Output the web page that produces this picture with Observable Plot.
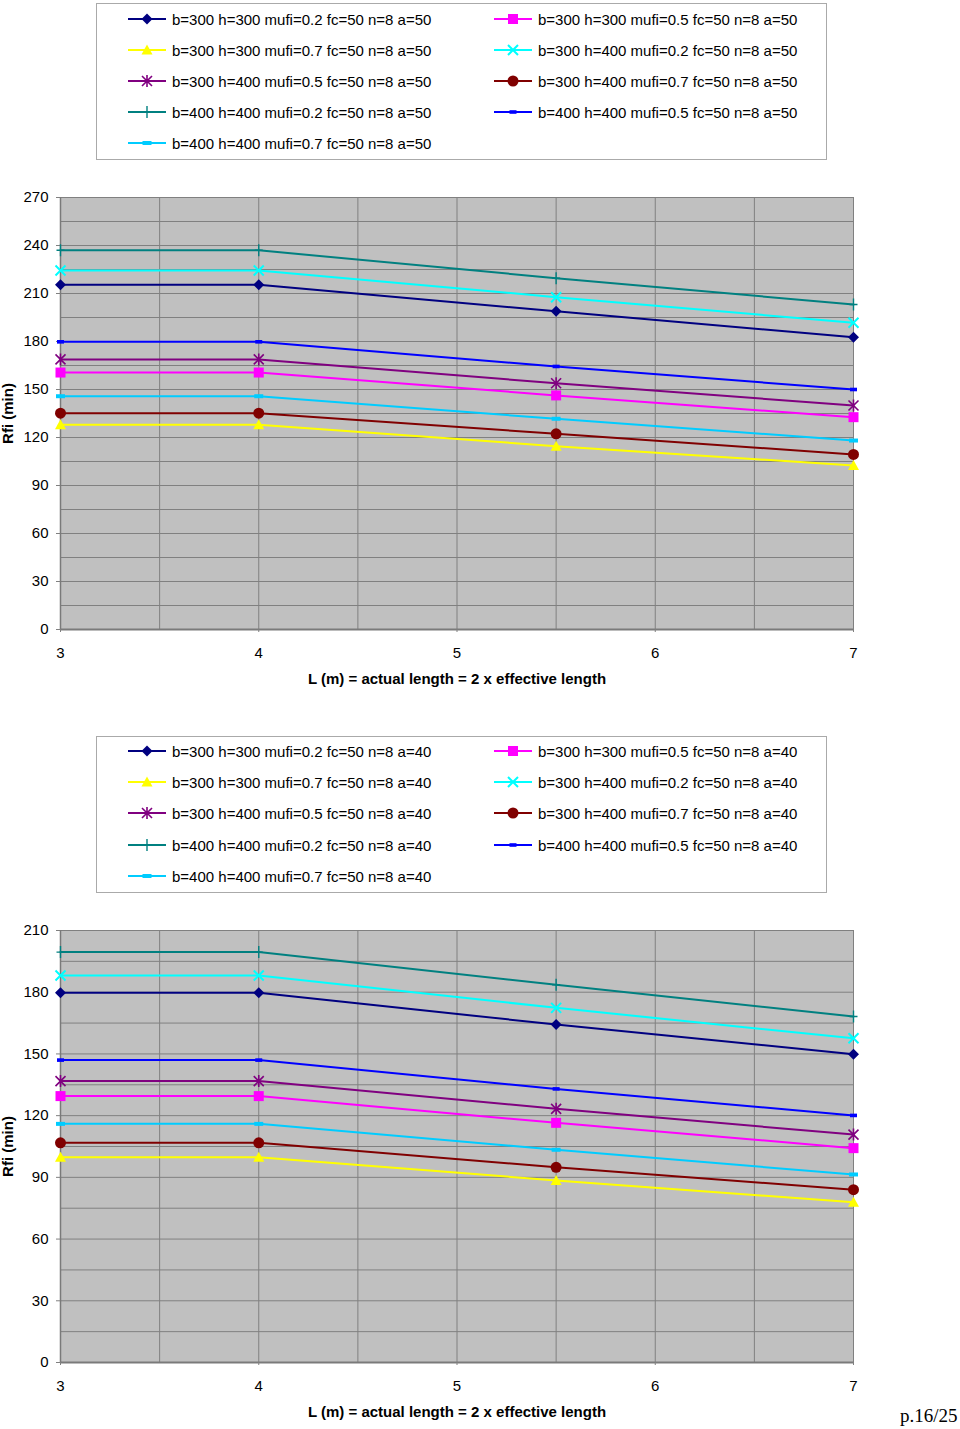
<!DOCTYPE html>
<html><head><meta charset="utf-8">
<script src="https://cdn.jsdelivr.net/npm/d3@7"></script>
<script src="https://cdn.jsdelivr.net/npm/@observablehq/plot@0.6"></script>
<style>
body{margin:0;background:#fff;font-family:"Liberation Sans",Arial,sans-serif;}
#page{position:relative;width:960px;height:1429px;overflow:hidden;background:#fff;}
.legend{position:absolute;left:96px;width:729px;height:155px;border:1px solid #aaaaaa;background:#fff;}
.item{position:absolute;height:20px;display:flex;align-items:center;font-size:15px;color:#000;white-space:nowrap;}
.item svg{margin-right:6px;}
.chart{position:absolute;left:0;}
.pg{position:absolute;left:900px;top:1405px;font-family:"Liberation Serif","Times New Roman",serif;font-size:19px;color:#000;}
</style></head>
<body><div id="page"></div>
<script>
// ---- data ----
const xValues = [3, 4, 5.5, 7];
const xTicks = [3, 4, 5, 6, 7];
const topYTicks = [0, 30, 60, 90, 120, 150, 180, 210, 240, 270];
const bottomYTicks = [0, 30, 60, 90, 120, 150, 180, 210];
const seriesBase = [
  "b=300 h=300 mufi=0.2 fc=50 n=8",
  "b=300 h=300 mufi=0.5 fc=50 n=8",
  "b=300 h=300 mufi=0.7 fc=50 n=8",
  "b=300 h=400 mufi=0.2 fc=50 n=8",
  "b=300 h=400 mufi=0.5 fc=50 n=8",
  "b=300 h=400 mufi=0.7 fc=50 n=8",
  "b=400 h=400 mufi=0.2 fc=50 n=8",
  "b=400 h=400 mufi=0.5 fc=50 n=8",
  "b=400 h=400 mufi=0.7 fc=50 n=8"
];
const seriesColors = ["#000080", "#ff00ff", "#ffff00", "#00ffff", "#800080", "#800000", "#008080", "#0000ff", "#00ccff"];
const seriesMarkers = ["diamond", "square", "triangle", "times", "star", "circle", "plus", "dash", "dashWide"];
// Rfi (min), a = 50
const topValues = [
  [215.4, 215.4, 198.9, 182.7],
  [160.6, 160.6, 146.3, 132.7],
  [127.9, 127.9, 114.6, 102.5],
  [224.4, 224.4, 207.7, 191.7],
  [168.8, 168.8, 153.9, 140.0],
  [135.2, 135.2, 122.3, 109.4],
  [237.0, 237.0, 219.6, 203.1],
  [179.8, 179.8, 164.4, 150.0],
  [145.8, 145.8, 131.7, 118.1]
];
// Rfi (min), a = 40
const bottomValues = [
  [179.7, 179.7, 164.3, 149.9],
  [129.5, 129.5, 116.5, 104.2],
  [99.8, 99.8, 88.5, 77.9],
  [188.1, 188.1, 172.4, 157.6],
  [136.8, 136.8, 123.3, 110.8],
  [106.8, 106.8, 94.9, 84.0],
  [199.5, 199.5, 183.6, 168.2],
  [147.0, 147.0, 133.0, 120.1],
  [116.0, 116.0, 103.4, 91.4]
];
const xTitle = "L (m) = actual length = 2 x effective length";
const yTitle = "Rfi (min)";

// ---- symbols ----
const SYM = {
  diamond: {draw(c){c.moveTo(0,-5.5);c.lineTo(5.5,0);c.lineTo(0,5.5);c.lineTo(-5.5,0);c.closePath();}, fill:true},
  square: {draw(c){c.rect(-5,-5,10,10);}, fill:true},
  triangle: {draw(c){c.moveTo(0,-5.5);c.lineTo(5.5,4.5);c.lineTo(-5.5,4.5);c.closePath();}, fill:true},
  times: {draw(c){c.moveTo(-5,-5);c.lineTo(5,5);c.moveTo(5,-5);c.lineTo(-5,5);}, fill:false, sw:2},
  star: {draw(c){c.moveTo(-5,-5);c.lineTo(5,5);c.moveTo(5,-5);c.lineTo(-5,5);c.moveTo(0,-6);c.lineTo(0,6);}, fill:false, sw:1.6},
  circle: {draw(c){c.moveTo(5.5,0);c.arc(0,0,5.5,0,2*Math.PI);}, fill:true},
  plus: {draw(c){c.moveTo(0,-6);c.lineTo(0,6);c.moveTo(-4,0);c.lineTo(4,0);}, fill:false, sw:1.4},
  dash: {draw(c){c.rect(-3.5,-1.8,7,3.6);}, fill:true},
  dashWide: {draw(c){c.rect(-4.5,-2,9,4);}, fill:true}
};

const page = document.getElementById("page");

function legend(top, suffix, rowY) {
  const box = document.createElement("div");
  box.className = "legend";
  box.style.top = top + "px";
  seriesBase.forEach((name, i) => {
    const col = i % 2, row = Math.floor(i / 2);
    const it = document.createElement("div");
    it.className = "item";
    it.style.left = (col === 0 ? 31 : 397) + "px";
    it.style.top = rowY[row] + "px";
    const s = SYM[seriesMarkers[i]];
    const path = d3.symbol().type(s)();
    const col_ = seriesColors[i];
    it.innerHTML = `<svg width="38" height="16"><line x1="0" x2="38" y1="8" y2="8" stroke="${col_}" stroke-width="2"/>` +
      `<path transform="translate(19,8)" d="${path}" fill="${s.fill ? col_ : "none"}" stroke="${s.fill ? "none" : col_}" stroke-width="${s.sw || 1}"/></svg>` +
      `<span>${name} ${suffix}</span>`;
    box.appendChild(it);
  });
  page.appendChild(box);
}

function chart(top, values, yTicks, yMax) {
  const marks = [
    Plot.frame({fill: "#c0c0c0", stroke: "#808080"}),
    Plot.gridY(d3.range(15, yMax, 15), {stroke: "#808080", strokeOpacity: 1, strokeWidth: 1}),
    Plot.gridX([3.5, 4, 4.5, 5, 5.5, 6, 6.5], {stroke: "#808080", strokeOpacity: 1, strokeWidth: 1}),
    Plot.ruleY([0], {stroke: "#7a7a7a", strokeWidth: 2}),
    Plot.ruleX([3], {stroke: "#7a7a7a", strokeWidth: 1.5}),
    Plot.axisX({ticks: xTicks, tickSize: 3, tickPadding: 15, label: null, fontSize: 15, stroke: "#808080", tickFormat: d => String(d)}),
    Plot.axisY({ticks: yTicks, tickSize: 4, tickPadding: 8, label: null, fontSize: 15, stroke: "#808080", tickFormat: d => String(d)}),
    Plot.text([xTitle], {frameAnchor: "bottom", dy: 54, fontWeight: "bold", fontSize: 15}),
    Plot.text([yTitle], {frameAnchor: "left", textAnchor: "middle", dx: -52, rotate: -90, fontWeight: "bold", fontSize: 15})
  ];
  values.forEach((vals, i) => {
    const rows = xValues.map((x, j) => ({x, y: vals[j]}));
    marks.push(Plot.line(rows, {x: "x", y: "y", stroke: seriesColors[i], strokeWidth: 2}));
    const s = SYM[seriesMarkers[i]];
    marks.push(Plot.dot(rows, {x: "x", y: "y", symbol: s, r: 5,
      fill: s.fill ? seriesColors[i] : "none",
      stroke: s.fill ? "none" : seriesColors[i],
      strokeWidth: s.sw || 1}));
  });
  const svg = Plot.plot({
    width: 960, height: 530,
    marginLeft: 60, marginRight: 107, marginTop: 27, marginBottom: 71,
    x: {domain: [3, 7]},
    y: {domain: [0, yMax]},
    style: {fontFamily: "'Liberation Sans', Arial, sans-serif", fontSize: "15px", color: "#000", background: "transparent", overflow: "visible"},
    marks
  });
  const wrap = document.createElement("div");
  wrap.className = "chart";
  wrap.style.top = top + "px";
  wrap.appendChild(svg);
  page.appendChild(wrap);
}

legend(3, "a=50", [5, 36, 67, 98, 129]);
chart(170, topValues, topYTicks, 270);
legend(736, "a=40", [4, 35, 66, 98, 129]);
chart(903, bottomValues, bottomYTicks, 210);

const pg = document.createElement("div");
pg.className = "pg";
pg.textContent = "p.16/25";
page.appendChild(pg);
</script>
</body></html>
